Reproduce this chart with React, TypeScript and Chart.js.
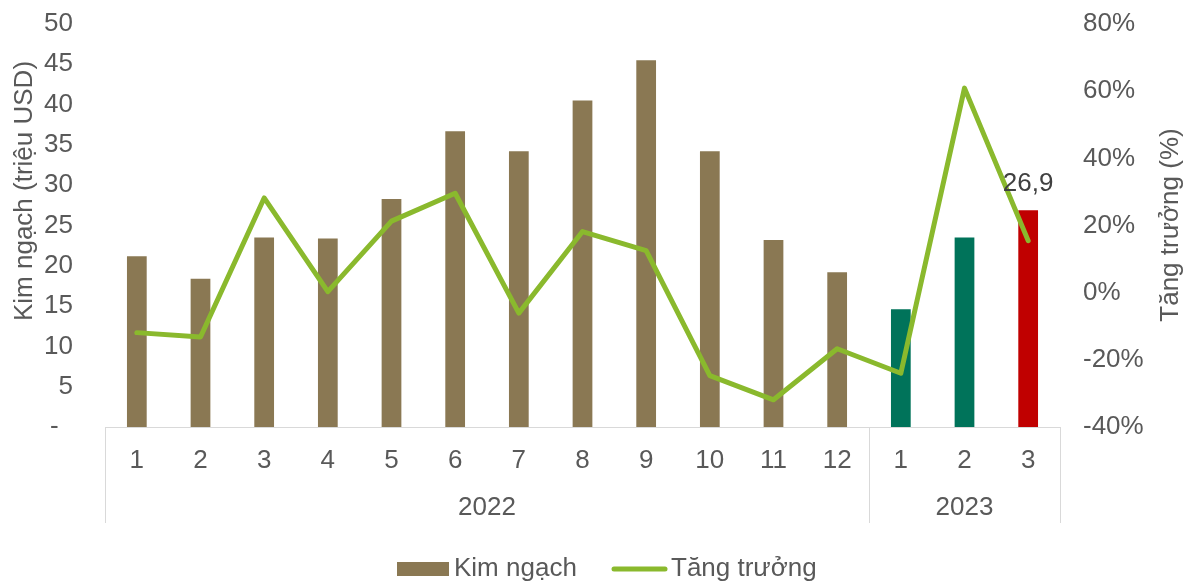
import React, { useEffect, useRef } from 'react';
import { Chart, registerables } from 'chart.js';

Chart.register(...registerables);

const months = ['1', '2', '3', '4', '5', '6', '7', '8', '9', '10', '11', '12', '1', '2', '3'];
const years = ['2022', '2023'];
const yearSpans = [12, 3];
const kimNgach = [21.2, 18.4, 23.5, 23.4, 28.3, 36.7, 34.2, 40.5, 45.5, 34.2, 23.2, 19.2, 14.6, 23.5, 26.9];
const tangTruong = [-11.9, -13.2, 28.2, 0.3, 21.3, 29.6, -6.1, 18.2, 12.5, -24.7, -31.9, -16.7, -24.0, 60.9, 15.5];
const BROWN = '#8A7853';
const TEAL = '#00735A';
const RED = '#C00000';
const GREEN = '#8AB92D';
const barColors = [
  BROWN, BROWN, BROWN, BROWN, BROWN, BROWN, BROWN, BROWN, BROWN, BROWN, BROWN, BROWN,
  TEAL, TEAL, RED,
];
const labelIndex = 14;
const labelText = '26,9';
const leftTitle = 'Kim ngạch (triệu USD)';
const rightTitle = 'Tăng trưởng (%)';
const legendBar = 'Kim ngạch';
const legendLine = 'Tăng trưởng';

const FONT = '"Liberation Sans", Arial, sans-serif';
const FS = 26;
const TXT = '#595959';

const decorPlugin = {
  id: 'decor',
  afterDraw(chart: any) {
    const ctx = chart.ctx;
    const x = chart.scales.x;
    const area = chart.chartArea;
    const step = (area.right - area.left) / months.length;
    ctx.save();
    ctx.strokeStyle = '#D9D9D9';
    ctx.lineWidth = 1;
    let idx = 0;
    const bounds = [0];
    yearSpans.forEach((s) => { idx += s; bounds.push(idx); });
    bounds.forEach((b) => {
      const px = Math.round(x.getPixelForValue(b) - step / 2) + 0.5;
      ctx.beginPath();
      ctx.moveTo(px, area.bottom);
      ctx.lineTo(px, area.bottom + 96);
      ctx.stroke();
    });
    ctx.fillStyle = TXT;
    ctx.font = `${FS}px ${FONT}`;
    ctx.textAlign = 'center';
    ctx.textBaseline = 'middle';
    for (let i = 0; i < years.length; i++) {
      const a = x.getPixelForValue(bounds[i]) - step / 2;
      const b = x.getPixelForValue(bounds[i + 1]) - step / 2;
      ctx.fillText(years[i], (a + b) / 2, area.bottom + 81);
    }
    ctx.save();
    ctx.translate(25, 191);
    ctx.rotate(-Math.PI / 2);
    ctx.fillText(leftTitle, 0, 0);
    ctx.restore();
    ctx.save();
    ctx.translate(1171, 225);
    ctx.rotate(-Math.PI / 2);
    ctx.fillText(rightTitle, 0, 0);
    ctx.restore();
    const meta = chart.getDatasetMeta(1);
    const bar = meta.data[labelIndex];
    ctx.fillStyle = '#404040';
    ctx.textAlign = 'center';
    ctx.fillText(labelText, bar.x, bar.y - 26);
    ctx.fillStyle = BROWN;
    ctx.fillRect(397, 562, 52, 14);
    ctx.fillStyle = TXT;
    ctx.textAlign = 'left';
    ctx.fillText(legendBar, 454, 569);
    ctx.strokeStyle = GREEN;
    ctx.lineWidth = 5;
    ctx.lineCap = 'round';
    ctx.beginPath();
    ctx.moveTo(614, 569);
    ctx.lineTo(665, 569);
    ctx.stroke();
    ctx.fillText(legendLine, 671, 569);
    ctx.restore();
  },
};

export default function App() {
  const ref = useRef<HTMLCanvasElement | null>(null);
  useEffect(() => {
    if (!ref.current) return;
    const chart = new Chart(ref.current, {
      type: 'bar',
      data: {
        labels: months,
        datasets: [
          {
            type: 'line',
            label: legendLine,
            data: tangTruong,
            yAxisID: 'y1',
            borderColor: GREEN,
            backgroundColor: GREEN,
            borderWidth: 5,
            pointRadius: 0,
            tension: 0,
            borderJoinStyle: 'round',
            borderCapStyle: 'round',
            order: 0,
          } as any,
          {
            type: 'bar',
            label: legendBar,
            data: kimNgach,
            yAxisID: 'y',
            backgroundColor: barColors,
            barPercentage: 1,
            categoryPercentage: 0.31,
            order: 1,
          },
        ],
      },
      options: {
        animation: false,
        responsive: true,
        maintainAspectRatio: false,
        layout: { padding: { top: 24, left: 0, right: 0, bottom: 0 } },
        plugins: { legend: { display: false }, tooltip: { enabled: false } },
        scales: {
          x: {
            grid: { display: false, drawTicks: false },
            border: { display: true, color: '#D9D9D9', width: 1 },
            ticks: { color: TXT, font: { family: FONT, size: FS }, padding: 18, maxRotation: 0, autoSkip: false },
            afterFit: (s: any) => { s.height = 156; s.paddingLeft = 0; s.paddingRight = 0; },
          },
          y: {
            position: 'left',
            min: 0,
            max: 50,
            grid: { display: false, drawTicks: false },
            border: { display: false },
            ticks: {
              stepSize: 5,
              color: TXT,
              font: { family: FONT, size: FS },
              padding: 32,
              callback: (v: any) => (v === 0 ? '-\u00a0\u00a0' : String(v)),
            },
            afterFit: (s: any) => { s.width = 105; s.paddingTop = 0; s.paddingBottom = 0; },
          },
          y1: {
            position: 'right',
            min: -40,
            max: 80,
            grid: { display: false, drawTicks: false },
            border: { display: false },
            ticks: {
              stepSize: 20,
              color: TXT,
              font: { family: FONT, size: FS },
              padding: 23,
              callback: (v: any) => `${v}%`,
            },
            afterFit: (s: any) => { s.width = 126; s.paddingTop = 0; s.paddingBottom = 0; },
          },
        },
      },
      plugins: [decorPlugin],
    });
    return () => chart.destroy();
  }, []);
  return (
    <div style={{ position: 'fixed', left: 0, top: 0, width: 1186, height: 583 }}>
      <canvas ref={ref} />
    </div>
  );
}
